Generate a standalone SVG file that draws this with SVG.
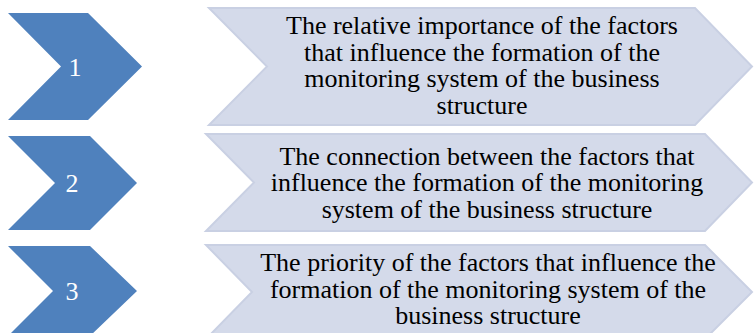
<svg xmlns="http://www.w3.org/2000/svg" width="754" height="333" viewBox="0 0 754 333">
<style>
.blue{fill:#4f81bd;}
.light{fill:#d4daea;stroke:#c9d0e3;stroke-width:2;stroke-linejoin:miter;}
.num{font-family:"Liberation Serif","Times New Roman",serif;font-size:26px;fill:#ffffff;text-anchor:middle;}
.lbl{font-family:"Liberation Serif","Times New Roman",serif;font-size:26px;fill:#000000;text-anchor:middle;}
</style>
<rect width="754" height="333" fill="#ffffff"/>
<g id="step1">
<polygon class="blue" points="8,13 88,13 142,66.5 88,120 8,120 61,66.5"/>
<text class="num" x="75" y="76">1</text>
</g>
<g id="desc1">
<polygon class="light" points="209,8 695,8 752,66.5 695,125 209,125 267,66.5"/>
<text class="lbl" x="482" y="34">The relative importance of the factors</text>
<text class="lbl" x="482" y="60.5">that influence the formation of the</text>
<text class="lbl" x="482" y="87">monitoring system of the business</text>
<text class="lbl" x="482" y="113.5">structure</text>
</g>
<g id="step2">
<polygon class="blue" points="8,136 90,136 137,183 90,230 8,230 55,183"/>
<text class="num" x="72" y="192">2</text>
</g>
<g id="desc2">
<polygon class="light" points="206,134 705,134 752,182.5 705,231 206,231 254,182.5"/>
<text class="lbl" x="487" y="164.5">The connection between the factors that</text>
<text class="lbl" x="487" y="191">influence the formation of the monitoring</text>
<text class="lbl" x="487" y="217.5">system of the business structure</text>
</g>
<g id="step3">
<polygon class="blue" points="8,246 90,246 137,291 90,336 8,336 53,291"/>
<text class="num" x="72" y="300">3</text>
</g>
<g id="desc3">
<polygon class="light" points="206,245 705,245 752,292 705,339 206,339 252,292"/>
<text class="lbl" x="488" y="271">The priority of the factors that influence the</text>
<text class="lbl" x="488" y="297.5">formation of the monitoring system of the</text>
<text class="lbl" x="488" y="324">business structure</text>
</g>
<g id="connectors"></g>
</svg>
